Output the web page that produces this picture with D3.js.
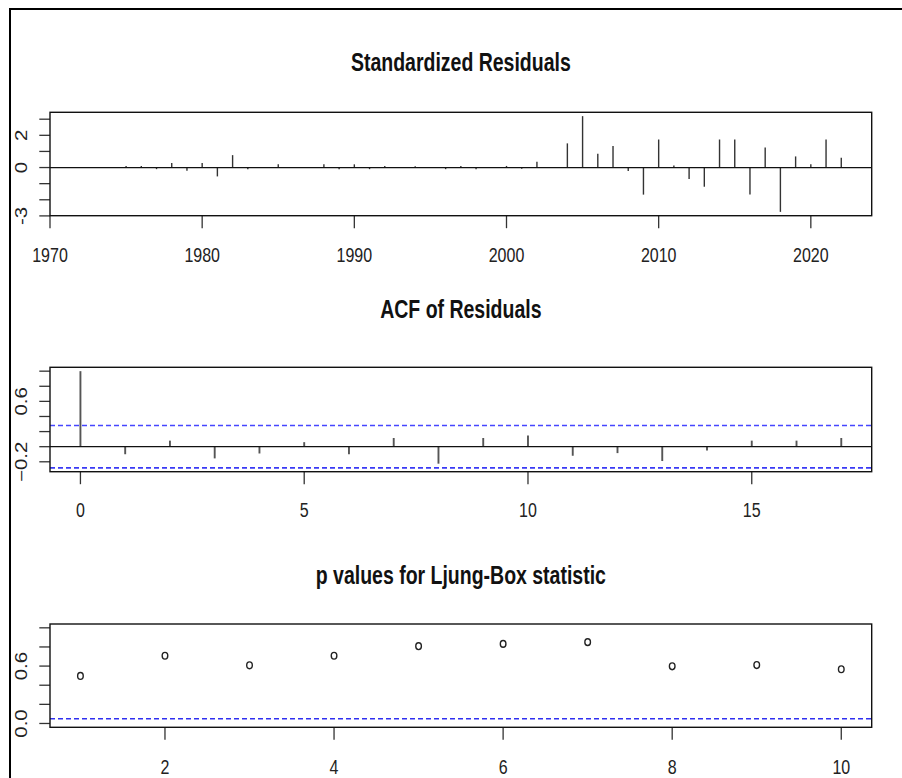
<!DOCTYPE html>
<html>
<head>
<meta charset="utf-8">
<script src="https://cdn.jsdelivr.net/npm/d3@7"></script>
<style>
  body { margin: 0; background: #fff; }
  svg { display: block; font-family: "Liberation Sans", Arial, sans-serif; }
</style>
</head>
<body>
<svg id="chart" width="902" height="778"></svg>
<script>
// Standardized residuals, one per year
const resYears = d3.range(1972, 2023);
const resValues = [
  0, 0, 0, 0.1, 0.1, -0.1, 0.28, -0.2, 0.28, -0.55,
  0.77, -0.1, 0.02, 0.2, 0.02, 0.02, 0.2, -0.1, 0.2, -0.1,
  0.1, 0.02, 0.08, 0.02, -0.1, 0.1, -0.1, 0.02, 0.1, -0.08,
  0.36, 0.02, 1.5, 3.19, 0.85, 1.33, -0.22, -1.68, 1.74, 0.12,
  -0.71, -1.19, 1.74, 1.74, -1.68, 1.25, -2.75, 0.69, 0.2, 1.74,
  0.61
];
const resXTicks = [1970, 1980, 1990, 2000, 2010, 2020];
const resYTicks = [-3, -2, -1, 0, 1, 2, 3];
const resYLabels = [2, 0, -3];

// ACF of residuals
const acfLags = d3.range(0, 18);
const acfValues = [
  1.0, -0.1, 0.08, -0.155, -0.09, 0.06, -0.1, 0.115, -0.225, 0.115,
  0.147, -0.12, -0.085, -0.19, -0.05, 0.08, 0.08, 0.115
];
const acfBound = 0.28;
const acfXTicks = [0, 5, 10, 15];
const acfYTicks = [-0.2, 0, 0.2, 0.4, 0.6, 0.8, 1.0];
const acfYLabels = [0.6, -0.2];

// Ljung-Box p values
const lbLags = d3.range(1, 11);
const lbValues = [0.497, 0.708, 0.608, 0.708, 0.808, 0.832, 0.85, 0.598, 0.611, 0.567];
const lbLevel = 0.05;
const lbXTicks = [2, 4, 6, 8, 10];
const lbYTicks = [0, 0.2, 0.4, 0.6, 0.8, 1.0];
const lbYLabels = [0.6, 0.0];

const svg = d3.select("#chart");
const left = 50, right = 871.7;
const stretch = 1.28; // the picture is taller than it is wide

// R style 4% padding of a range
function pad(ext) {
  const d = (ext[1] - ext[0]) * 0.04;
  return [ext[0] - d, ext[1] + d];
}

svg.append("rect")
  .attr("x", 10).attr("y", 9)
  .attr("width", 1000).attr("height", 1000)
  .attr("fill", "none").attr("stroke", "#000").attr("stroke-width", 2);

function drawPanel(p) {
  const g = svg.append("g");
  const x = d3.scaleLinear().domain(p.xDomain).range([left, right]);
  const y = d3.scaleLinear().domain(p.yDomain).range([p.bottom, p.top]);

  // title
  g.append("text")
    .attr("transform", `translate(${(left + right) / 2},${p.titleY}) scale(1,${stretch})`)
    .attr("text-anchor", "middle")
    .attr("font-weight", "bold")
    .attr("font-size", 19.5)
    .attr("fill", "#111")
    .text(p.title);

  // x ticks and labels
  g.selectAll(".xt").data(p.xTicks).enter().append("line")
    .attr("x1", d => x(d)).attr("x2", d => x(d))
    .attr("y1", p.bottom).attr("y2", p.bottom + 12.5)
    .attr("stroke", "#333").attr("stroke-width", 1.3);
  g.selectAll(".xl").data(p.xTicks).enter().append("text")
    .attr("transform", d => `translate(${x(d)},${p.xLabelY}) scale(1,${stretch})`)
    .attr("text-anchor", "middle")
    .attr("font-size", 16)
    .attr("fill", "#222")
    .text(d => d);

  // y ticks and labels
  g.selectAll(".yt").data(p.yTicks).enter().append("line")
    .attr("x1", left - 10.7).attr("x2", left)
    .attr("y1", d => y(d)).attr("y2", d => y(d))
    .attr("stroke", "#333").attr("stroke-width", 1.3);
  g.selectAll(".yl").data(p.yLabels).enter().append("text")
    .attr("transform", d => `translate(27,${y(d)}) scale(1,${stretch}) rotate(-90)`)
    .attr("text-anchor", "middle")
    .attr("font-size", 16)
    .attr("fill", "#222")
    .text(d => p.fmt(d));

  p.draw(g, x, y);

  // box
  g.append("rect")
    .attr("x", left).attr("y", p.top)
    .attr("width", right - left).attr("height", p.bottom - p.top)
    .attr("fill", "none").attr("stroke", "#111").attr("stroke-width", 1.4);
}

function hline(g, x, y, v, color, dash, w) {
  g.append("line")
    .attr("x1", x.range()[0]).attr("x2", x.range()[1])
    .attr("y1", y(v)).attr("y2", y(v))
    .attr("stroke", color).attr("stroke-width", w)
    .attr("stroke-dasharray", dash);
}

// Standardized residuals
drawPanel({
  title: "Standardized Residuals", titleY: 70.7,
  top: 112.3, bottom: 215.7,
  xDomain: pad(d3.extent(resYears)), yDomain: pad(d3.extent(resValues)),
  xTicks: resXTicks, yTicks: resYTicks, yLabels: resYLabels,
  xLabelY: 262.3, fmt: d => d,
  draw: (g, x, y) => {
    g.selectAll(".bar").data(resValues).enter().append("line")
      .attr("x1", (d, i) => x(resYears[i])).attr("x2", (d, i) => x(resYears[i]))
      .attr("y1", y(0)).attr("y2", d => y(d))
      .attr("stroke", "#333").attr("stroke-width", 1.4);
    hline(g, x, y, 0, "#111", null, 1.3);
  }
});

// ACF of residuals
drawPanel({
  title: "ACF of Residuals", titleY: 318.3,
  top: 367.3, bottom: 471.7,
  xDomain: pad(d3.extent(acfLags)), yDomain: pad([-acfBound, 1]),
  xTicks: acfXTicks, yTicks: acfYTicks, yLabels: acfYLabels,
  xLabelY: 516.7, fmt: d3.format(".1f"),
  draw: (g, x, y) => {
    g.selectAll(".bar").data(acfValues).enter().append("line")
      .attr("x1", (d, i) => x(acfLags[i])).attr("x2", (d, i) => x(acfLags[i]))
      .attr("y1", y(0)).attr("y2", d => y(d))
      .attr("stroke", "#555").attr("stroke-width", 1.9);
    hline(g, x, y, 0, "#111", null, 1.3);
    hline(g, x, y, acfBound, "#4646ff", "5,3", 1.6);
    hline(g, x, y, -acfBound, "#3a3af5", "5,3", 1.6);
  }
});

// Ljung-Box p values
drawPanel({
  title: "p values for Ljung-Box statistic", titleY: 584,
  top: 624, bottom: 727.3,
  xDomain: pad(d3.extent(lbLags)), yDomain: pad([0, 1]),
  xTicks: lbXTicks, yTicks: lbYTicks, yLabels: lbYLabels,
  xLabelY: 774, fmt: d3.format(".1f"),
  draw: (g, x, y) => {
    hline(g, x, y, lbLevel, "#2f2ff0", "5,3", 1.6);
    g.selectAll(".pt").data(lbValues).enter().append("ellipse")
      .attr("cx", (d, i) => x(lbLags[i])).attr("cy", d => y(d))
      .attr("rx", 2.8).attr("ry", 3.4)
      .attr("fill", "none").attr("stroke", "#222").attr("stroke-width", 1.4);
  }
});
</script>
</body>
</html>
